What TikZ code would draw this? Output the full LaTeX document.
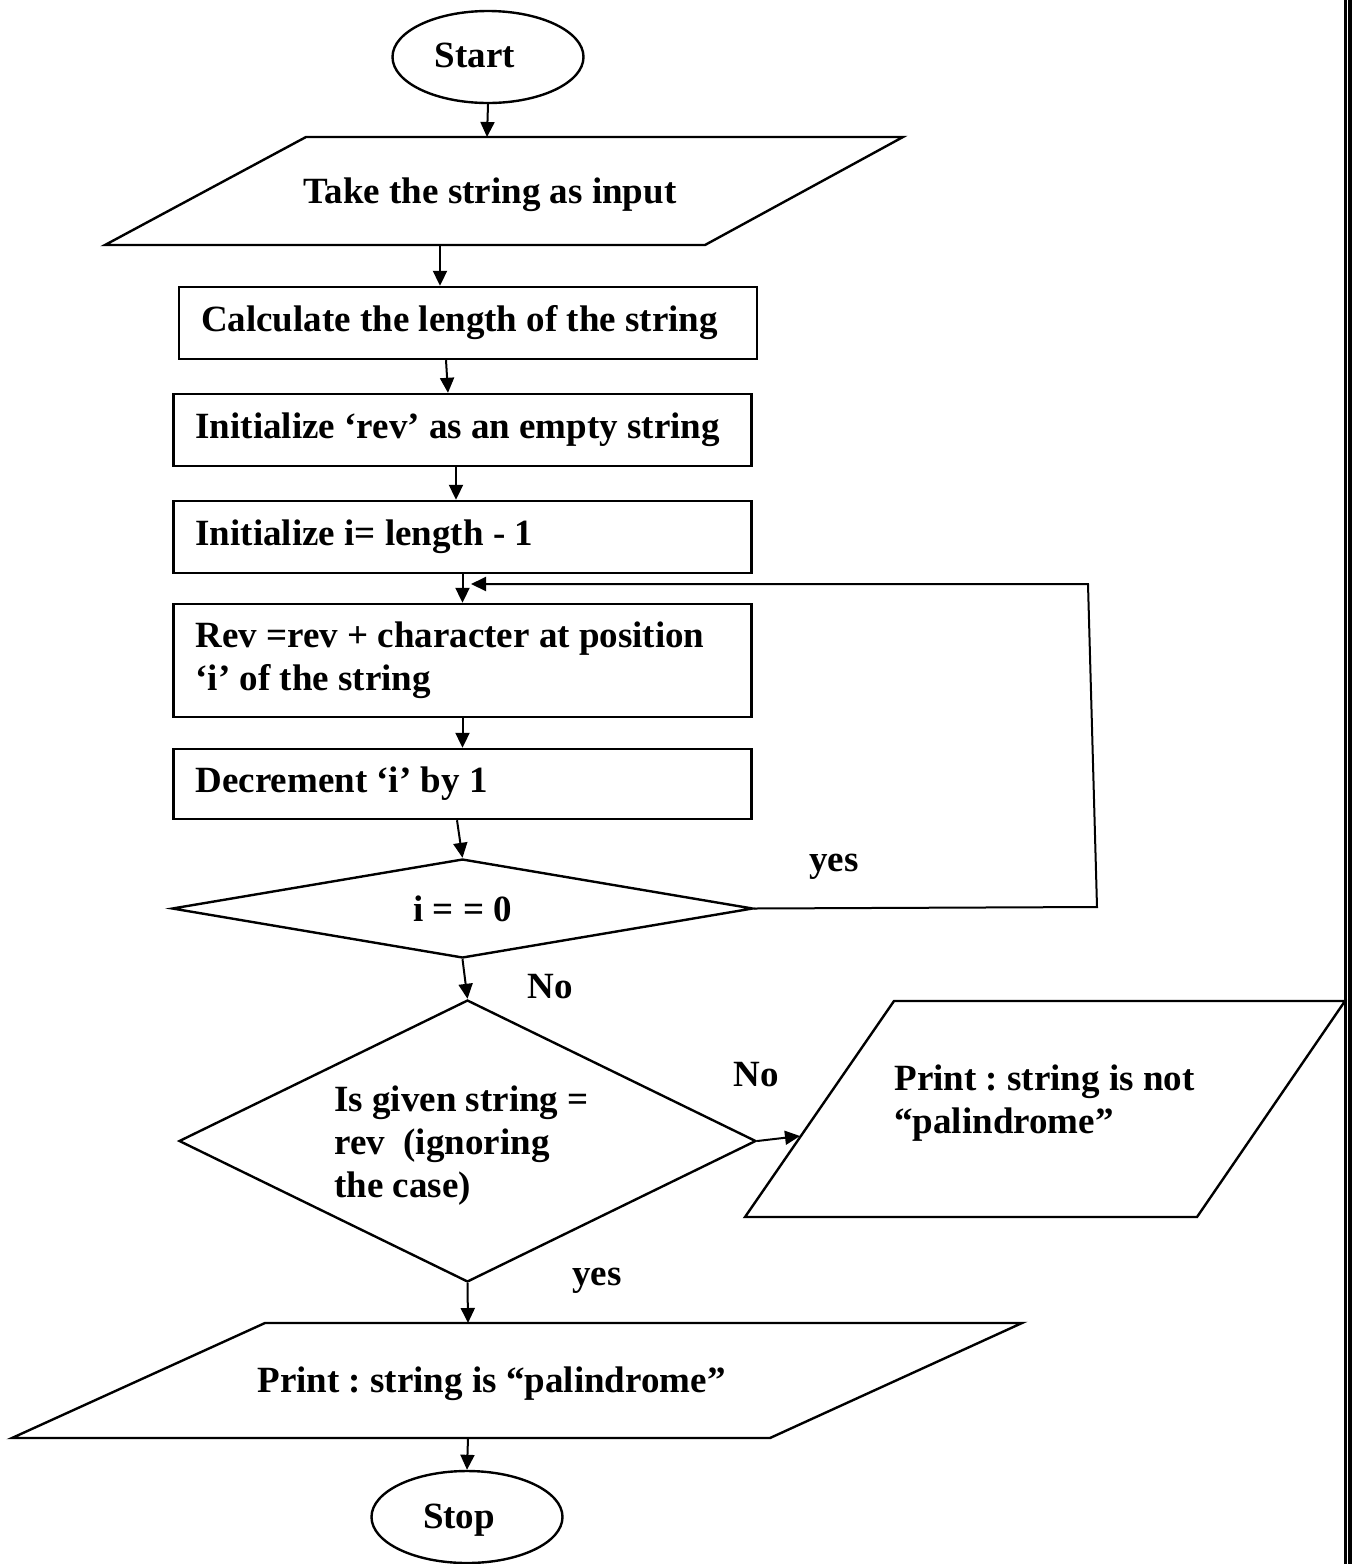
\documentclass[tikz,border=0pt]{standalone}
\usepackage{fontspec}
\setmainfont{Liberation Serif}
\usetikzlibrary{arrows.meta,shapes.geometric}
\begin{document}
\frenchspacing
\begin{tikzpicture}[x=0.5pt,y=-0.5pt,
  every node/.style={font=\fontsize{18.5pt}{21.5pt}\selectfont\bfseries},
  shapeline/.style={draw, line width=1.2pt},
  proc/.style={shapeline, rectangle, minimum width=289pt, inner xsep=11pt, inner ysep=0pt, text width=267pt, align=flush left},
  term/.style={shapeline, ellipse, minimum width=95.5pt, minimum height=46pt, inner sep=0pt},
  decide/.style={shapeline, diamond, inner sep=0pt},
  txt/.style={inner sep=0pt},
  flow/.style={line width=1pt, -{Triangle[length=7.5pt,width=7pt]}},
]
\useasboundingbox (0,0) rectangle (1352,1564);

% terminals
\node[term] (start) at (488,57) {};
\node[txt, anchor=base] (start-t) at (475,67) {Start};
\node[term] (stop) at (467,1517) {};
\node[txt, anchor=base] (stop-t) at (459,1528) {Stop};

% input
\draw[shapeline] (306,137) -- (903,137) -- (705,245) -- (105,245) -- cycle;
\coordinate (in-t) at (487,137);
\coordinate (in-b) at (440,245);
\node[txt, anchor=base] (in) at (490,203) {Take the string as input};

% process steps
\node[proc, minimum height=36pt] (b1) at (468,323) {\mbox{Calculate the length of the string}};
\node[proc, minimum height=36pt] (b2) at (462.5,430) {\mbox{Initialize ‘rev’ as an empty string}};
\node[proc, minimum height=36pt] (b3) at (462.5,537) {\mbox{Initialize i= length - 1}};
\node[proc, minimum height=56.5pt] (b4) at (462.5,660.5) {\mbox{Rev =rev + character at position}\\\mbox{‘i’ of the string}};
\node[proc, minimum height=35pt] (b5) at (462.5,784) {\mbox{Decrement ‘i’ by 1}};

% decisions
\node[decide, minimum width=290.5pt, minimum height=49.5pt, aspect=5.87] (d1) at (462.5,908.5) {i = = 0};
\node[decide, minimum width=288.5pt, minimum height=141pt, aspect=2.05] (d2) at (467.5,1141) {};
\node[txt, anchor=base west, align=left] (d2-t) at (334,1197) {Is given string =\\rev\ \ (ignoring\\the case)};

% outputs
\draw[shapeline] (894,1001) -- (1345,1001) -- (1197,1217) -- (745,1217) -- cycle;
\coordinate (np-l) at (800,1136);
\node[txt, anchor=base west, align=left] (np) at (894,1133) {Print : string is not\\“palindrome”};

\draw[shapeline] (265,1323) -- (1022,1323) -- (770,1438) -- (12,1438) -- cycle;
\coordinate (pp-t) at (468,1323);
\coordinate (pp-b) at (468,1438);
\node[txt, anchor=base] (pp) at (491.5,1392) {Print : string is “palindrome”};

% page border on the right
\draw[line width=1.25pt] (1345.5,0) -- (1345.5,1564);
\draw[line width=2pt] (1350,0) -- (1350,1564);

% loop-back route
\coordinate (lp1) at (1097,907);
\coordinate (lp2) at (1088,584);
\coordinate (lp-end) at (471,584);

% connectors
\draw[flow] (start.south) -- (in-t);
\draw[flow] (in-b) -- (in-b |- b1.north);
\draw[flow] ([xshift=-11pt]b1.south) -- ([xshift=-7.25pt]b2.north);
\draw[flow] ([xshift=-3.25pt]b2.south) -- ([xshift=-3.25pt]b3.north);
\draw[flow] (b3.south) -- (b4.north);
\draw[flow] (b4.south) -- (b5.north);
\draw[flow] ([xshift=-2.75pt]b5.south) -- (d1.north);
\draw[flow] (d1.east) -- (lp1) -- (lp2) -- (lp-end);
\draw[flow] (d1.south) -- (d2.north);
\draw[flow] (d2.east) -- (np-l);
\draw[flow] (d2.south) -- (pp-t);
\draw[flow] (pp-b) -- (stop.north);

% branch labels
\node[txt, anchor=base] (yes1) at (834,871) {yes};
\node[txt, anchor=base] (no1) at (550,998) {No};
\node[txt, anchor=base] (no2) at (756,1086) {No};
\node[txt, anchor=base] (yes2) at (597,1285) {yes};
\end{tikzpicture}
\end{document}
